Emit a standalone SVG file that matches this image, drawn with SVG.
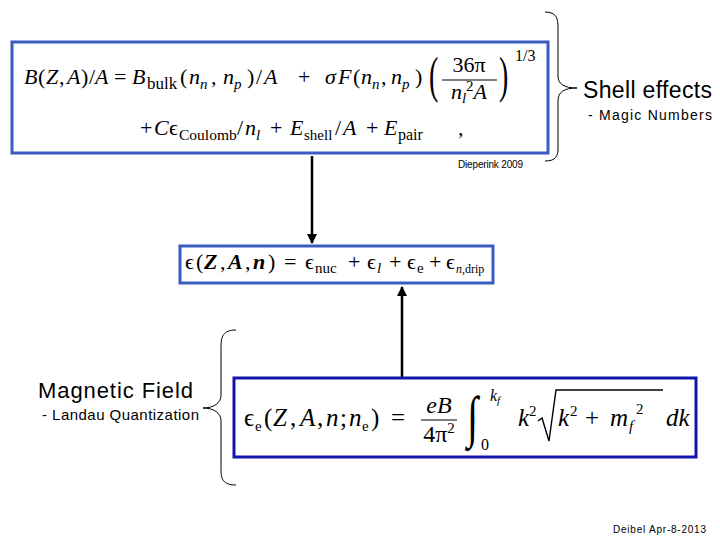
<svg xmlns="http://www.w3.org/2000/svg" width="720" height="540" viewBox="0 0 720 540">
<style>
.m{font-family:"Liberation Serif","DejaVu Serif",serif;font-size:22px;fill:#000}
.i{font-style:italic}
.b{font-weight:bold}
.s{font-size:15px}
.lab{font-family:"Liberation Sans",Arial,sans-serif;fill:#000}
.box1{fill:#fff;stroke:#3a5bbf;stroke-width:3}
.box3{fill:#fff;stroke:#1414aa;stroke-width:3}
.brace{fill:none;stroke:#000;stroke-width:1}
.conn{stroke:#000;stroke-width:2.5;fill:none}
.rule{stroke:#000;stroke-width:1.2}
</style>
<defs>
<marker id="ah" viewBox="0 0 10 10" refX="9" refY="5" markerWidth="4" markerHeight="4" orient="auto" markerUnits="strokeWidth">
<path d="M0,0 L10,5 L0,10 z" fill="#000"/>
</marker>
</defs>
<rect width="720" height="540" fill="#fff"/>

<g id="connectors">
<line class="conn" x1="312" y1="156" x2="312" y2="243" marker-end="url(#ah)"/>
<line class="conn" x1="402" y1="377" x2="402" y2="287" marker-end="url(#ah)"/>
</g>

<g id="binding-energy">
<rect class="box1" x="12" y="42" width="536" height="111"/>
<text class="m" y="84"><tspan x="24" class="i">B</tspan><tspan x="38">(</tspan><tspan x="46" class="i">Z</tspan><tspan x="59">,</tspan><tspan x="67" class="i">A</tspan><tspan x="81">)</tspan><tspan x="89">/</tspan><tspan x="95" class="i">A</tspan></text>
<text class="m" x="114" y="84">=</text>
<text class="m" y="84"><tspan x="132" class="i">B</tspan><tspan x="147" y="89" style="font-size:17px">bulk</tspan><tspan x="180" y="84">(</tspan><tspan x="189" class="i">n</tspan><tspan x="200" y="89" class="s i">n</tspan><tspan x="211" y="84">,</tspan><tspan x="223" class="i">n</tspan><tspan x="234" y="89" class="s i">p</tspan><tspan x="247" y="84">)</tspan><tspan x="256">/</tspan><tspan x="264" class="i">A</tspan></text>
<text class="m" x="298" y="84">+</text>
<text class="m" y="84"><tspan x="325" class="i">σ</tspan><tspan x="338" class="i">F</tspan><tspan x="353">(</tspan><tspan x="361" class="i">n</tspan><tspan x="372" y="89" class="s i">n</tspan><tspan x="381" y="84">,</tspan><tspan x="391" class="i">n</tspan><tspan x="402" y="89" class="s i">p</tspan><tspan x="415" y="84">)</tspan></text>
<text class="m" transform="translate(429,92) scale(1,1.79)" style="font-size:28px">(</text>
<text class="m" x="469" y="72" text-anchor="middle">36π</text>
<line class="rule" x1="442" y1="80" x2="497" y2="80"/>
<text class="m" x="469" y="99" text-anchor="middle"><tspan class="i">n</tspan><tspan class="s i" dy="4">l</tspan><tspan class="s" dy="-12">2</tspan><tspan class="i" dy="8">A</tspan></text>
<text class="m" transform="translate(499,92) scale(1,1.79)" style="font-size:28px">)</text>
<text class="m" x="515" y="61" style="font-size:16px">1/3</text>
<text class="m" y="135"><tspan x="140">+</tspan><tspan x="154" class="i">C</tspan><tspan x="169">ϵ</tspan><tspan x="179" y="140" style="font-size:15.5px">Coulomb</tspan><tspan x="237" y="135">/</tspan><tspan x="245" class="i">n</tspan><tspan x="256" y="140" class="s i">l</tspan></text>
<text class="m" x="270" y="135">+</text>
<text class="m" y="135"><tspan x="290" class="i">E</tspan><tspan x="304" y="140" class="s">shell</tspan><tspan x="335" y="135">/</tspan><tspan x="343" class="i">A</tspan></text>
<text class="m" x="366" y="135">+</text>
<text class="m" y="135"><tspan x="384" class="i">E</tspan><tspan x="398" y="140" style="font-size:16px">pair</tspan></text>
<text class="m" x="458" y="135">,</text>
</g>

<g id="total-energy">
<rect class="box1" x="180" y="246" width="313" height="37"/>
<text class="m" y="269"><tspan x="185">ϵ</tspan><tspan x="196">(</tspan><tspan x="204" class="i b">Z</tspan><tspan x="220">,</tspan><tspan x="228" class="i b">A</tspan><tspan x="245">,</tspan><tspan x="253" class="i b">n</tspan><tspan x="268">)</tspan></text>
<text class="m" x="284" y="269">=</text>
<text class="m" y="269"><tspan x="305">ϵ</tspan><tspan x="315" y="273" class="s">nuc</tspan></text>
<text class="m" x="348" y="269">+</text>
<text class="m" y="269"><tspan x="367">ϵ</tspan><tspan x="377" y="273" class="s i">l</tspan></text>
<text class="m" x="389" y="269">+</text>
<text class="m" y="269"><tspan x="407">ϵ</tspan><tspan x="417" y="273" class="s">e</tspan></text>
<text class="m" x="429" y="269">+</text>
<text class="m" y="269"><tspan x="446">ϵ</tspan><tspan x="456" y="273" style="font-size:12px"><tspan class="i">n</tspan>,drip</tspan></text>
</g>

<g id="electron-energy">
<rect class="box3" x="234" y="378" width="462" height="79"/>
<text class="m" y="426" style="font-size:25px"><tspan x="244">ϵ</tspan><tspan x="255" y="431" class="s">e</tspan><tspan x="264" y="426">(</tspan><tspan x="273" class="i">Z</tspan><tspan x="290">,</tspan><tspan x="300" class="i">A</tspan><tspan x="317">,</tspan><tspan x="326" class="i">n</tspan><tspan x="340">;</tspan><tspan x="349" class="i">n</tspan><tspan x="362" y="431" class="s">e</tspan><tspan x="371" y="426">)</tspan></text>
<text class="m" x="391" y="426" style="font-size:25px">=</text>
<text class="m" x="439" y="413" text-anchor="middle" style="font-size:24px"><tspan class="i">eB</tspan></text>
<line class="rule" x1="421" y1="420" x2="457" y2="420"/>
<text class="m" x="439" y="442" text-anchor="middle" style="font-size:24px">4π<tspan class="s" dy="-9">2</tspan></text>
<text class="m" transform="translate(467,436) scale(1,1.42)" style="font-size:40px">∫</text>
<text class="m" x="490" y="401" style="font-size:16px"><tspan class="i">k</tspan><tspan style="font-size:11px" class="i" dy="3">f</tspan></text>
<text class="m" x="481" y="450" style="font-size:16px">0</text>
<text class="m" x="518" y="426" style="font-size:25px"><tspan class="i">k</tspan><tspan class="s" dy="-10">2</tspan></text>
<polyline points="538,421 542,418 549,441 556,390 663,390" fill="none" stroke="#000" stroke-width="1.4"/>
<text class="m" y="426" style="font-size:25px"><tspan x="558" class="i">k</tspan><tspan x="570" y="416" class="s">2</tspan><tspan x="585" y="426">+</tspan><tspan x="610" class="i">m</tspan><tspan x="629" y="431" class="s i">f</tspan><tspan x="636" y="414" class="s">2</tspan></text>
<text class="m" x="666" y="426" style="font-size:25px"><tspan class="i">dk</tspan></text>
</g>

<g id="shell-effects">
<path class="brace" d="M545,12 C557,12 558,19 558,28 L558,76 C558,84 564,88 577,88 C564,88 558,92 558,101 L558,148 C558,156 556,161 545,161"/>
<text class="lab" x="583" y="98" style="font-size:23px" textLength="129">Shell effects</text>
<text class="lab" x="588" y="120" style="font-size:14px" textLength="124">- Magic Numbers</text>
<text class="lab" x="458" y="168" style="font-size:10px" textLength="65">Dieperink 2009</text>
</g>

<g id="magnetic-field">
<path class="brace" d="M236,330 C223,330 221,337 221,346 L221,395 C221,403 214,408 203,408 C214,408 221,413 221,421 L221,470 C221,479 223,485 236,485"/>
<text class="lab" x="38" y="398" style="font-size:22px" textLength="155">Magnetic Field</text>
<text class="lab" x="42" y="420" style="font-size:15px" textLength="157">- Landau Quantization</text>
</g>

<text class="lab" x="613" y="533" style="font-size:10px" textLength="93">Deibel Apr-8-2013</text>
</svg>
